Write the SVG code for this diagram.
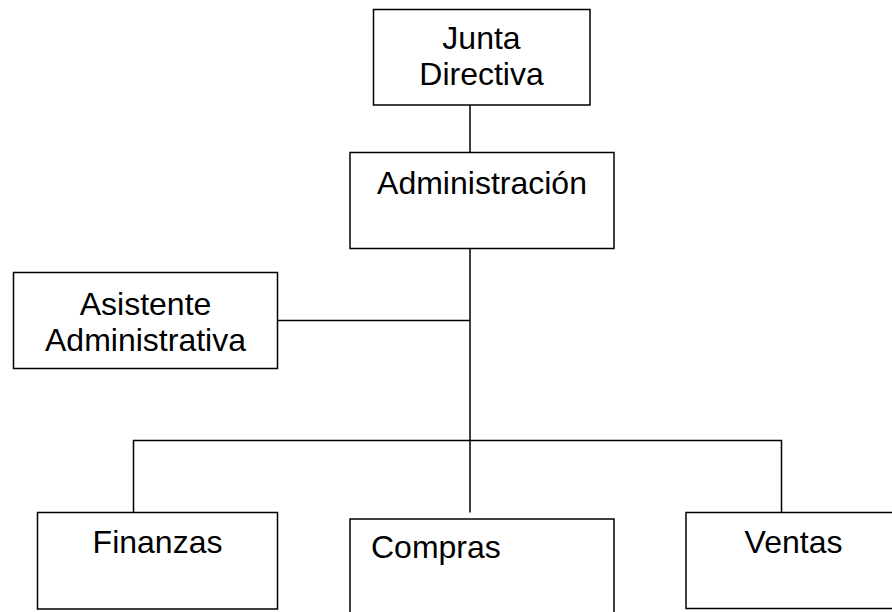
<svg xmlns="http://www.w3.org/2000/svg" width="892" height="612" viewBox="0 0 892 612">
<style>
.box{fill:#fff;stroke:#000;stroke-width:1.5}
.c{fill:none;stroke:#000;stroke-width:1.5}
text{font-family:"Liberation Sans",Arial,sans-serif;font-size:32px;fill:#000}
.m{text-anchor:middle}
</style>
<rect width="892" height="612" fill="#fff"/>
<g id="connectors">
<line class="c" x1="470" y1="105" x2="470" y2="152.5"/>
<line class="c" x1="470" y1="248.5" x2="470" y2="512.5"/>
<line class="c" x1="277.5" y1="320.5" x2="470" y2="320.5"/>
<polyline class="c" points="133.5,512.5 133.5,440.5 781.5,440.5 781.5,512.5"/>
</g>
<g id="junta">
<rect class="box" x="373.5" y="9.5" width="216.5" height="95.5"/>
<text class="m" x="481.5" y="48.5">Junta</text>
<text class="m" x="481.5" y="85">Directiva</text>
</g>
<g id="administracion">
<rect class="box" x="350" y="152.5" width="264" height="96"/>
<text class="m" x="482" y="193.5">Administración</text>
</g>
<g id="asistente">
<rect class="box" x="13.5" y="272.5" width="264" height="96"/>
<text class="m" x="145.5" y="314.5">Asistente</text>
<text class="m" x="145.5" y="350.5">Administrativa</text>
</g>
<g id="finanzas">
<rect class="box" x="37.5" y="512.5" width="240" height="96.5"/>
<text class="m" x="157.5" y="552.5">Finanzas</text>
</g>
<g id="compras">
<rect class="box" x="350" y="519" width="264" height="100"/>
<text x="371" y="558">Compras</text>
</g>
<g id="ventas">
<rect class="box" x="686" y="512.5" width="215" height="96"/>
<text class="m" x="793.5" y="552.5">Ventas</text>
</g>
</svg>
